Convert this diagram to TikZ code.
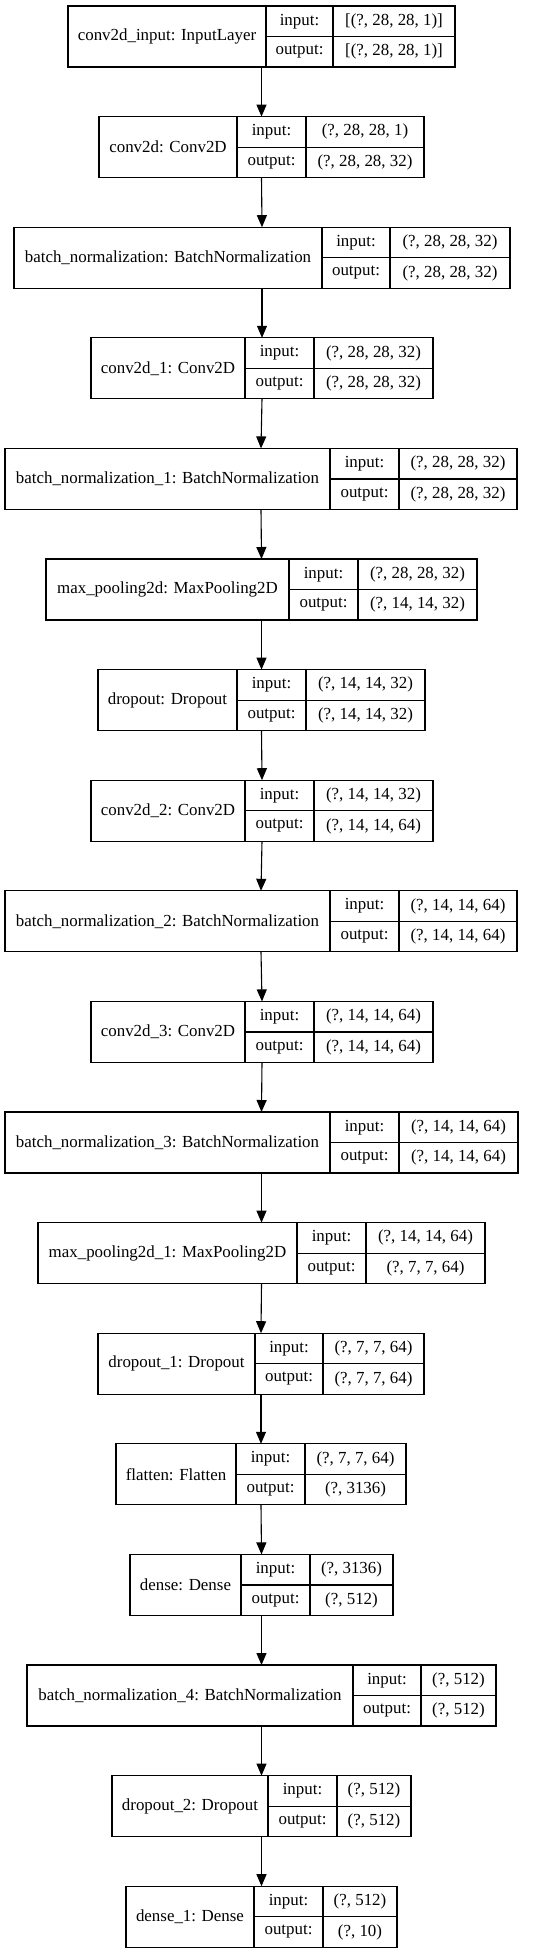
\documentclass[tikz,border=0pt]{standalone}
\usepackage{fontspec}
\setmainfont{Liberation Serif}
\usetikzlibrary{arrows.meta}
\tikzset{
  font=\fontsize{16.9}{20}\selectfont,
  % Set arrowhead
  >={Triangle[length=12pt, width=10pt]},
  % Record outline and cell lines
  cellbox/.style={draw, line width=1.2pt, inner sep=0pt, outer sep=0pt,
    minimum height=61pt, anchor=north west},
  cellline/.style={line width=1.2pt},
  % Text in a cell
  celltext/.style={inner sep=0pt},
  % Connector between layers
  flow/.style={->, line width=1.1pt},
}
% record: name, top, left, div1, div2, right, label, input, output
\newcommand{\layerbox}[9]{%
  \node[cellbox, minimum width={(#6-#3)*1pt}] (#1) at (#3,#2) {};
  \draw[cellline] (#4,#2) -- (#4,{#2+61});
  \draw[cellline] (#5,#2) -- (#5,{#2+61});
  \draw[cellline] (#4,{#2+30.5}) -- (#6,{#2+30.5});
  \node[celltext] (#1-name) at ({(#3+#4)/2},{#2+30.5}) {#7};
  \node[celltext] (#1-inkey) at ({(#4+#5)/2},{#2+15.25}) {input:};
  \node[celltext] (#1-outkey) at ({(#4+#5)/2},{#2+45.75}) {output:};
  \node[celltext] (#1-inval) at ({(#5+#6)/2},{#2+15.25}) {#8};
  \node[celltext] (#1-outval) at ({(#5+#6)/2},{#2+45.75}) {#9};
}
\begin{document}
\begin{tikzpicture}[x=1pt, y=-1pt]
  \useasboundingbox (0,0) rectangle (557,1955);

  \layerbox{conv2dinput}{6}{68}{266}{333}{455}{conv2d\_input: InputLayer}{[(?, 28, 28, 1)]}{[(?, 28, 28, 1)]}
  \layerbox{conv2d}{116.6}{99}{237}{306}{424}{conv2d: Conv2D}{(?, 28, 28, 1)}{(?, 28, 28, 32)}
  \layerbox{bn}{227.2}{14}{322}{390}{510}{batch\_normalization: BatchNormalization}{(?, 28, 28, 32)}{(?, 28, 28, 32)}
  \layerbox{conv2d1}{337.8}{91}{245}{314}{433}{conv2d\_1: Conv2D}{(?, 28, 28, 32)}{(?, 28, 28, 32)}
  \layerbox{bn1}{448.4}{5}{330}{399}{517}{batch\_normalization\_1: BatchNormalization}{(?, 28, 28, 32)}{(?, 28, 28, 32)}
  \layerbox{maxpool}{559}{46}{289}{358}{477}{max\_pooling2d: MaxPooling2D}{(?, 28, 28, 32)}{(?, 14, 14, 32)}
  \layerbox{dropout}{669.6}{98}{237}{306}{425}{dropout: Dropout}{(?, 14, 14, 32)}{(?, 14, 14, 32)}
  \layerbox{conv2d2}{780.2}{91}{245}{314}{433}{conv2d\_2: Conv2D}{(?, 14, 14, 32)}{(?, 14, 14, 64)}
  \layerbox{bn2}{890.8}{5}{330}{399}{517}{batch\_normalization\_2: BatchNormalization}{(?, 14, 14, 64)}{(?, 14, 14, 64)}
  \layerbox{conv2d3}{1001.4}{91}{245}{314}{433}{conv2d\_3: Conv2D}{(?, 14, 14, 64)}{(?, 14, 14, 64)}
  \layerbox{bn3}{1112}{5}{330}{399}{518}{batch\_normalization\_3: BatchNormalization}{(?, 14, 14, 64)}{(?, 14, 14, 64)}
  \layerbox{maxpool1}{1222.6}{38}{297}{366}{485}{max\_pooling2d\_1: MaxPooling2D}{(?, 14, 14, 64)}{(?, 7, 7, 64)}
  \layerbox{dropout1}{1333.2}{98}{255}{323}{424}{dropout\_1: Dropout}{(?, 7, 7, 64)}{(?, 7, 7, 64)}
  \layerbox{flatten}{1443.8}{116}{236}{305}{406}{flatten: Flatten}{(?, 7, 7, 64)}{(?, 3136)}
  \layerbox{dense}{1554.4}{130}{241}{310}{393}{dense: Dense}{(?, 3136)}{(?, 512)}
  \layerbox{bn4}{1665}{27}{353}{421}{496}{batch\_normalization\_4: BatchNormalization}{(?, 512)}{(?, 512)}
  \layerbox{dropout2}{1775.6}{112}{268}{337}{411}{dropout\_2: Dropout}{(?, 512)}{(?, 512)}
  \layerbox{dense1}{1886.2}{126}{254}{323}{397}{dense\_1: Dense}{(?, 512)}{(?, 10)}

  % connectors
  \foreach \a/\b in {conv2dinput/conv2d, conv2d/bn, bn/conv2d1, conv2d1/bn1,
    bn1/maxpool, maxpool/dropout, dropout/conv2d2, conv2d2/bn2, bn2/conv2d3,
    conv2d3/bn3, bn3/maxpool1, maxpool1/dropout1, dropout1/flatten,
    flatten/dense, dense/bn4, bn4/dropout2, dropout2/dense1}
    \draw[flow] (\a.south) -- (\b.north);
\end{tikzpicture}
\end{document}
